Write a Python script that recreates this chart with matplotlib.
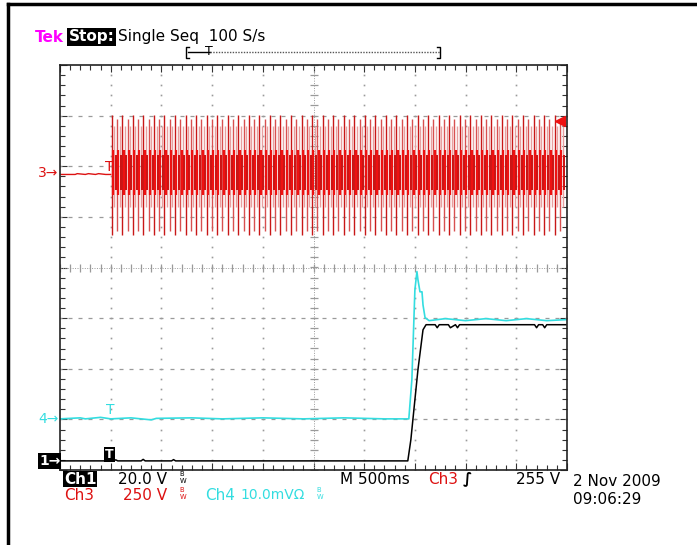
import numpy as np
import matplotlib
matplotlib.use("Agg")
import matplotlib.pyplot as plt
from matplotlib.ticker import MultipleLocator
from matplotlib.lines import Line2D

W, H = 697, 545

# scope settings
time_per_div = 0.5          # s/div  (M 500ms)
ch1_scale, ch1_pos = 20.0, -3.82    # V/div, div
ch3_scale, ch3_pos = 250.0, 1.87    # V/div, div
ch4_scale, ch4_pos = 10.0, -2.99    # mV/div, div
trig_level = 255.0          # V on Ch3

# Ch1 (black) - time in s, volts
ch1_t = [-0.50, -0.02, 0.00, 0.02, 0.05, 0.07, 0.30, 0.32, 0.34, 0.60, 0.62, 0.64,
         2.93, 2.96, 3.03, 3.08, 3.11, 3.20, 3.22, 3.24, 3.33, 3.35, 3.40, 3.42,
         3.44, 4.18, 4.20, 4.22, 4.26, 4.28, 4.30, 4.49]
ch1_v = [0.0, 0.0, 0.6, 0.0, 0.4, 0.0, 0.0, 0.6, 0.0, 0.0, 0.5, 0.0,
         0.0, 8.3, 36.0, 51.8, 53.8, 53.8, 52.6, 53.8, 53.8, 52.6, 53.8, 52.6,
         53.8, 53.8, 52.6, 53.8, 53.8, 52.6, 53.8, 53.8]

# Ch4 (cyan) - time in s, mV
ch4_t = [-0.50, -0.30, -0.25, -0.10, 0.00, 0.20, 0.40, 0.45, 0.80, 1.10, 1.50,
         1.90, 2.30, 2.70, 2.94, 2.97, 3.00, 3.02, 3.03, 3.05, 3.07, 3.08,
         3.10, 3.14, 3.30, 3.50, 3.70, 3.90, 4.10, 4.30, 4.49]
ch4_v = [0.0, 0.2, 0.0, 0.3, 0.0, 0.2, -0.2, 0.1, 0.2, 0.0, 0.2,
         0.0, 0.2, 0.0, 0.0, 7.7, 25.5, 29.1, 27.5, 25.1, 25.1, 22.5,
         20.0, 19.4, 19.8, 19.4, 19.8, 19.4, 19.8, 19.4, 19.6]

# Ch3 (red) - pre-trigger level and burst envelope, volts
ch3_pre_t = [-0.49, -0.35, -0.33, -0.25, -0.22, -0.15, -0.12, -0.05, 0.0]
ch3_pre_v = [-8.0, -8.0, -4.0, -8.0, -4.0, -8.0, -4.0, -8.0, -8.0]
burst_start, burst_end = 0.01, 4.46
spike_period = 0.052
tall_hi, tall_lo = 285.0, -305.0
mid_hi, mid_lo = 230.0, -170.0
core_hi, core_lo = 114.0, -109.0


def div3(v):
    return ch3_pos + np.asarray(v) / ch3_scale


fig = plt.figure(figsize=(W / 100, H / 100), dpi=100)
fig.patch.set_facecolor("white")

L, R, T, B = 60, 567, 65, 470
ax = fig.add_axes([L / W, 1 - B / H, (R - L) / W, (B - T) / H])
t_left = -time_per_div
ax.set_xlim(t_left, t_left + 10 * time_per_div)
ax.set_ylim(-4, 4)

# graticule
grey = "#9a9a9a"
for k in range(1, 10):
    if k == 5:
        continue
    xk = t_left + k * time_per_div
    ys = np.arange(-4, 4.001, 0.2)
    ax.plot([xk] * len(ys), ys, ls="none", marker="s", ms=1.2, color=grey, mec="none")
for k in range(-3, 4):
    if k == 0:
        continue
    xs = np.arange(t_left, t_left + 5.001, 0.1)
    ax.plot(xs, [k] * len(xs), ls="none", marker="_", ms=2.5, mew=0.9, color=grey)
# centre cross
xc = t_left + 5 * time_per_div
ax.axhline(0, color=grey, lw=0.7, ls=(0, (1, 1.5)))
ax.axvline(xc, color=grey, lw=0.7, ls=(0, (1, 1.5)))
xs = np.arange(t_left, t_left + 5.001, 0.1)
ax.plot(xs, [0] * len(xs), ls="none", marker="|", ms=6, mew=0.9, color=grey)
ys = np.arange(-4, 4.001, 0.2)
ax.plot([xc] * len(ys), ys, ls="none", marker="_", ms=6, mew=0.9, color=grey)

ax.xaxis.set_minor_locator(MultipleLocator(0.1))
ax.yaxis.set_minor_locator(MultipleLocator(0.2))
ax.xaxis.set_major_locator(MultipleLocator(0.5))
ax.yaxis.set_major_locator(MultipleLocator(1))
ax.tick_params(which="both", direction="in", top=True, right=True,
               labelbottom=False, labelleft=False, color="#333333", width=0.8)
ax.tick_params(which="major", length=5)
ax.tick_params(which="minor", length=3.5)
for s in ax.spines.values():
    s.set_color("#222222")
    s.set_linewidth(1.2)

# Ch3 burst
red = "#dd1111"
spikes = np.arange(burst_start, burst_end, spike_period)
ax.vlines(spikes + spike_period / 2, div3(mid_lo), div3(mid_hi), color="#e8a0a0", lw=1.0)
ax.vlines(spikes[::2], div3(tall_lo), div3(tall_hi), color="#c81818", lw=1.0)
ax.vlines(spikes[1::2], div3(tall_lo) + 0.08, div3(tall_hi) - 0.08, color="#d85050", lw=1.0)
ax.vlines(spikes + spike_period / 4, div3(core_lo), div3(core_hi), color="#ee1111", lw=1.6)
ax.vlines(spikes + 3 * spike_period / 4, div3(core_lo) + 0.1, div3(core_hi) - 0.1,
          color="#cc1010", lw=1.4)
ax.plot(ch3_pre_t, div3(ch3_pre_v), color=red, lw=1)
ax.plot([burst_end - 0.03], [div3(trig_level)], marker="<", ms=7, color="#ee1111", clip_on=False)

# Ch4, Ch1
cyan = "#33dde0"
ax.plot(ch4_t, ch4_pos + np.array(ch4_v) / ch4_scale, color=cyan, lw=1.2)
ax.plot(ch1_t, ch1_pos + np.array(ch1_v) / ch1_scale, color="black", lw=1.1)

# trigger position markers
ax.text(-0.01, div3(0) + 0.12, "T", color=red, fontsize=10, ha="center", va="center")
ax.text(0.0, ch4_pos + 0.17, "T", color=cyan, fontsize=10, ha="center", va="center")
ax.text(-0.01, ch1_pos + 0.13, "T", color="white", fontsize=9, ha="center", va="center",
        fontweight="bold", bbox=dict(boxstyle="square,pad=0.1", fc="black", ec="none"))


def px(x, y, s, **kw):
    fig.text(x / W, 1 - y / H, s, va="center", ha="left", **kw)


fs = 11
bw = r"$\mathregular{{}^{B}_{W}}$"
px(35, 37, "Tek", color="#ff00ff", fontweight="bold", fontsize=fs)
px(69, 37, "Stop:", color="white", fontweight="bold", fontsize=fs,
   bbox=dict(boxstyle="square,pad=0.1", fc="black", ec="none"))
px(118, 37, "Single Seq  100 S/s", color="black", fontsize=fs)

# record view bracket
fig.add_artist(Line2D([189 / W, 186 / W, 186 / W, 189 / W],
                      [1 - 47 / H, 1 - 47 / H, 1 - 58 / H, 1 - 58 / H], color="black", lw=1))
fig.add_artist(Line2D([188 / W, 210 / W], [1 - 52 / H, 1 - 52 / H], color="black", lw=1))
fig.add_artist(Line2D([210 / W, 440 / W], [1 - 52 / H, 1 - 52 / H], color="#555555", lw=1, ls=(0, (1, 1))))
fig.add_artist(Line2D([437 / W, 440 / W, 440 / W, 437 / W],
                      [1 - 47 / H, 1 - 47 / H, 1 - 58 / H, 1 - 58 / H], color="black", lw=1))
px(205, 51, "T", color="black", fontsize=9)

# ground markers
px(38, 173, "3\u2192", color=red, fontsize=fs - 1)
px(38, 419, "4\u2192", color=cyan, fontsize=fs - 1)
px(39, 461, "1\u2192", color="white", fontsize=fs - 1, fontweight="bold",
   bbox=dict(boxstyle="square,pad=0.08", fc="black", ec="none"))

# readouts
px(64, 479, "Ch1", color="white", fontsize=fs, fontweight="bold",
   bbox=dict(boxstyle="square,pad=0.05", fc="black", ec="none"))
px(118, 479, "20.0 V", color="black", fontsize=fs)
px(179, 478, bw, color="black", fontsize=7)
px(340, 479, "M 500ms", color="black", fontsize=fs)
px(428, 479, "Ch3", color=red, fontsize=fs)
px(463, 479, "\u222b", color="black", fontsize=fs, fontweight="bold")
px(516, 479, "255 V", color="black", fontsize=fs)
px(64, 495, "Ch3", color=red, fontsize=fs)
px(123, 495, "250 V", color=red, fontsize=fs)
px(179, 494, bw, color=red, fontsize=7)
px(205, 495, "Ch4", color=cyan, fontsize=fs)
px(240, 495, "10.0mV\u03a9", color=cyan, fontsize=fs - 1)
px(316, 494, bw, color=cyan, fontsize=7)
px(573, 482, "2 Nov 2009", color="black", fontsize=fs)
px(573, 500, "09:06:29", color="black", fontsize=fs)

# outer frame
fig.add_artist(Line2D([8 / W, 8 / W], [0, 1 - 4 / H], color="black", lw=2.5))
fig.add_artist(Line2D([8 / W, 1], [1 - 4 / H, 1 - 4 / H], color="black", lw=2.5))

fig.savefig("out.png", dpi=100)
